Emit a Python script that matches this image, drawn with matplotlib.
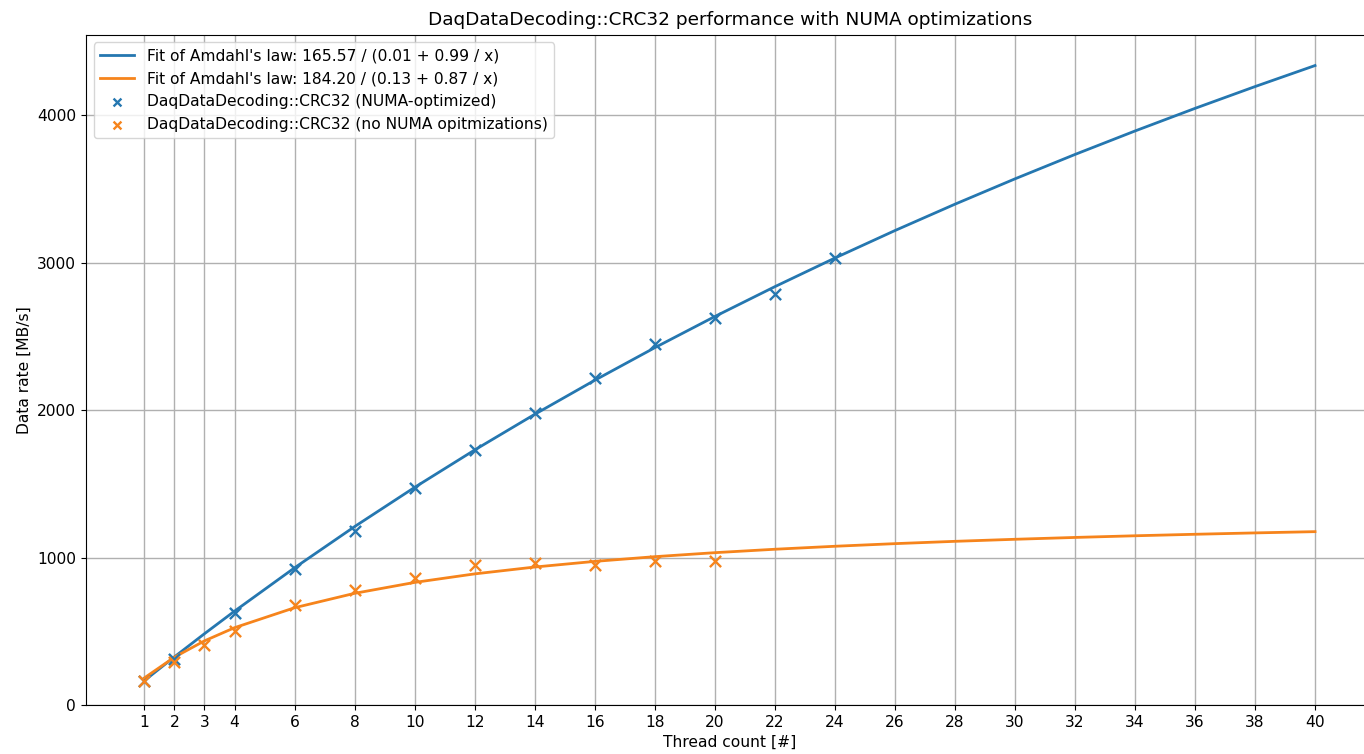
import numpy as np
import matplotlib.pyplot as plt

# thread counts used for the fit curves (evaluated only at these points)
fit_threads = [1, 2, 3, 4, 6, 8, 10, 12, 14, 16, 18, 20, 22, 24, 26, 28, 30, 32, 34, 36, 38, 40]
fit_numa = [165.6, 326.7, 483.7, 636.5, 930.6, 1210.2, 1476.3, 1730.0, 1971.9, 2203.0, 2424.0,
            2635.5, 2838.0, 3032.2, 3218.6, 3397.6, 3569.6, 3735.1, 3894.4, 4047.9, 4195.8, 4338.6]
fit_plain = [184.2, 324.6, 435.1, 524.4, 659.8, 757.6, 831.6, 889.5, 936.0, 974.3, 1006.3,
             1033.4, 1056.7, 1076.9, 1094.7, 1110.4, 1124.3, 1136.8, 1148.1, 1158.3, 1167.6, 1176.1]

# measurements
numa_threads = [1, 2, 4, 6, 8, 10, 12, 14, 16, 18, 20, 22, 24]
numa_rate = [165, 310, 625, 925, 1180, 1470, 1730, 1980, 2220, 2450, 2625, 2790, 3030]
plain_threads = [1, 2, 3, 4, 6, 8, 10, 12, 14, 16, 18, 20]
plain_rate = [160, 290, 405, 500, 680, 780, 860, 950, 965, 950, 975, 975]

fig = plt.figure(figsize=(13.64, 7.54), dpi=100)
ax = fig.add_axes([0.063, 0.065, 0.944, 0.889])

blue = '#2577b0'
orange = '#f6841c'
ax.plot(fit_threads, fit_numa, color=blue, lw=2,
        label="Fit of Amdahl's law: 165.57 / (0.01 + 0.99 / x)")
ax.plot(fit_threads, fit_plain, color=orange, lw=2,
        label="Fit of Amdahl's law: 184.20 / (0.13 + 0.87 / x)")
ax.scatter(numa_threads, numa_rate, marker='x', s=65, lw=1.7, color=blue, zorder=3,
           label='DaqDataDecoding::CRC32 (NUMA-optimized)')
ax.scatter(plain_threads, plain_rate, marker='x', s=65, lw=1.7, color=orange, zorder=3,
           label='DaqDataDecoding::CRC32 (no NUMA opitmizations)')

ax.set_xticks(fit_threads)
ax.set_xlim(-0.95, 41.95)
ax.set_ylim(0, 4548)
ax.set_yticks([0, 1000, 2000, 3000, 4000])
ax.tick_params(labelsize=11.2)
ax.grid(True, color='#b0b0b0', lw=1)
ax.set_axisbelow(True)

ax.set_xlabel('Thread count [#]', fontsize=11.2, labelpad=4)
ax.set_ylabel('Data rate [MB/s]', fontsize=11.2)
ax.set_title('DaqDataDecoding::CRC32 performance with NUMA optimizations', fontsize=13.3, pad=7)
ax.legend(loc='upper left', fontsize=11.2, markerscale=0.7, handlelength=2.2)

fig.savefig('out.png', dpi=100)
